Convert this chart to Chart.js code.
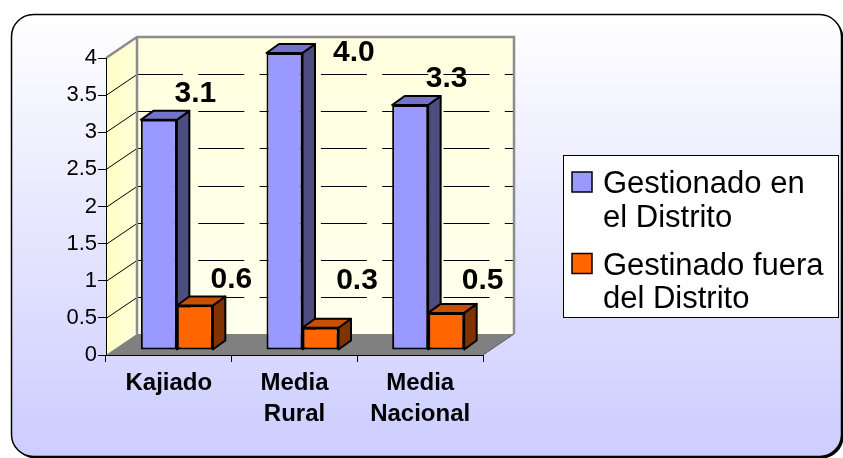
<!DOCTYPE html>
<html>
<head>
<meta charset="utf-8">
<title>Gestión de casos</title>
<script src="https://cdn.jsdelivr.net/npm/chart.js@4.4.0/dist/chart.umd.min.js"></script>
<style>
    body { margin: 0; background: #fff; }
    canvas { display: block; }
</style>
</head>
<body>
<canvas id="chart" width="843" height="458"></canvas>
<script>
    "use strict";

    // Data
    var categories = ['Kajiado', ['Media', 'Rural'], ['Media', 'Nacional']];
    var seriesNames = ['Gestionado en el Distrito', 'Gestinado fuera del Distrito'];
    var enDistrito = [3.1, 4.0, 3.3];
    var fueraDistrito = [0.6, 0.3, 0.5];
    var yTicks = [0, 0.5, 1, 1.5, 2, 2.5, 3, 3.5, 4];

    // Face colours for each series: front, top, side
    var faces = [
        { front: '#9999FF', top: '#7373C8', side: '#4D4D80' },
        { front: '#FF6600', top: '#C85000', side: '#803300' }
    ];

    var FONT = '"Liberation Sans", Arial, sans-serif';
    var WALL = { dx: 31, dy: -21 };     // depth of the plot box
    var SHIFT = { dx: 8, dy: -5 };      // bars stand a little behind the front edge
    var DEPTH = { dx: 12.5, dy: -9 };   // depth of each bar

    Chart.defaults.font.family = FONT;
    Chart.defaults.color = '#000';

    function roundRect(ctx, x, y, w, h, r) {
        ctx.beginPath();
        ctx.moveTo(x + r, y);
        ctx.arcTo(x + w, y, x + w, y + h, r);
        ctx.arcTo(x + w, y + h, x, y + h, r);
        ctx.arcTo(x, y + h, x, y, r);
        ctx.arcTo(x, y, x + w, y, r);
        ctx.closePath();
    }

    function poly(ctx, pts) {
        ctx.beginPath();
        ctx.moveTo(pts[0][0], pts[0][1]);
        for (var i = 1; i < pts.length; i++) ctx.lineTo(pts[i][0], pts[i][1]);
        ctx.closePath();
    }

    // word wrap for the legend
    function wrap(ctx, text, maxWidth) {
        var words = text.split(' '), lines = [], line = '';
        words.forEach(function (w) {
            var test = line ? line + ' ' + w : w;
            if (line && ctx.measureText(test).width > maxWidth) {
                lines.push(line);
                line = w;
            } else {
                line = test;
            }
        });
        if (line) lines.push(line);
        return lines;
    }

    // Background, walls, floor and gridlines
    var box3d = {
        id: 'box3d',
        beforeDraw: function (chart) {
            var ctx = chart.ctx, a = chart.chartArea, y = chart.scales.y;
            ctx.save();

            // panel with shadow
            ctx.fillStyle = '#000';
            roundRect(ctx, 13.5, 16.5, 830, 442, 22);
            ctx.fill();
            var bg = ctx.createLinearGradient(0, 14, 0, 457);
            bg.addColorStop(0, '#FFFFFF');
            bg.addColorStop(1, '#CCCCFF');
            ctx.fillStyle = bg;
            roundRect(ctx, 11.5, 14.5, 830, 442, 22);
            ctx.fill();
            ctx.lineWidth = 1.5;
            ctx.strokeStyle = '#000';
            ctx.stroke();

            var bl = a.left + WALL.dx, bt = a.top + WALL.dy;
            var br = a.right + WALL.dx, bb = a.bottom + WALL.dy;

            // left wall
            var lw = ctx.createLinearGradient(a.left, 0, bl, 0);
            lw.addColorStop(0, '#FFFFC4');
            lw.addColorStop(1, '#FFFFDA');
            ctx.fillStyle = lw;
            poly(ctx, [[a.left, a.top], [bl, bt], [bl, bb], [a.left, a.bottom]]);
            ctx.fill();

            // back wall
            var bw = ctx.createLinearGradient(0, bt, 0, bb);
            bw.addColorStop(0, '#FFFFDE');
            bw.addColorStop(1, '#FFFFEE');
            ctx.fillStyle = bw;
            ctx.fillRect(bl, bt, br - bl, bb - bt);

            // floor
            ctx.fillStyle = '#808080';
            poly(ctx, [[a.left, a.bottom], [a.right, a.bottom], [br, bb], [bl, bb]]);
            ctx.fill();

            // gridlines
            ctx.strokeStyle = '#000';
            ctx.lineWidth = 1;
            yTicks.forEach(function (v) {
                if (v <= y.min || v >= y.max) return;
                var py = Math.round(y.getPixelForValue(v)) + 0.5;
                ctx.setLineDash([]);
                ctx.beginPath();
                ctx.moveTo(a.left, py);
                ctx.lineTo(bl, py + WALL.dy);
                ctx.stroke();
                ctx.setLineDash([46, 15.3]);
                ctx.beginPath();
                ctx.moveTo(bl, py + WALL.dy);
                ctx.lineTo(br, py + WALL.dy);
                ctx.stroke();
            });
            ctx.setLineDash([]);

            // wall edges
            ctx.strokeStyle = '#8C8C8C';
            ctx.lineWidth = 2.5;
            ctx.beginPath();
            ctx.moveTo(a.left, a.top);
            ctx.lineTo(bl, bt);
            ctx.lineTo(br, bt);
            ctx.lineTo(br, bb);
            ctx.moveTo(bl, bt);
            ctx.lineTo(bl, bb);
            ctx.stroke();
            ctx.lineWidth = 1;
            ctx.strokeStyle = '#606060';
            ctx.beginPath();
            ctx.moveTo(a.right, a.bottom);
            ctx.lineTo(br, bb);
            ctx.stroke();

            ctx.restore();
        },
        beforeDatasetsDraw: function (chart) {
            var ctx = chart.ctx;
            ctx.save();
            ctx.translate(SHIFT.dx, SHIFT.dy);
            // tops and sides go underneath the front faces
            chart.data.datasets.forEach(function (ds, i) {
                var f = faces[i];
                chart.getDatasetMeta(i).data.forEach(function (bar) {
                    var l = bar.x - bar.width / 2, r = bar.x + bar.width / 2;
                    ctx.lineWidth = 2;
                    ctx.lineJoin = 'round';
                    ctx.strokeStyle = '#000';
                    poly(ctx, [[r, bar.y], [r + DEPTH.dx, bar.y + DEPTH.dy],
                        [r + DEPTH.dx, bar.base + DEPTH.dy], [r, bar.base]]);
                    ctx.fillStyle = f.side;
                    ctx.fill();
                    ctx.stroke();
                    poly(ctx, [[l, bar.y], [l + DEPTH.dx, bar.y + DEPTH.dy],
                        [r + DEPTH.dx, bar.y + DEPTH.dy], [r, bar.y]]);
                    ctx.fillStyle = f.top;
                    ctx.fill();
                    ctx.stroke();
                });
            });
        },
        afterDatasetsDraw: function (chart) {
            var ctx = chart.ctx, a = chart.chartArea, y = chart.scales.y;
            ctx.restore();

            // value labels
            ctx.save();
            ctx.font = 'bold 30px ' + FONT;
            ctx.fillStyle = '#000';
            ctx.textAlign = 'center';
            ctx.textBaseline = 'middle';
            chart.data.datasets.forEach(function (ds, i) {
                chart.getDatasetMeta(i).data.forEach(function (bar, j) {
                    var text = ds.data[j].toFixed(1);
                    var w = ctx.measureText(text).width;
                    var right = bar.x + bar.width / 2 + SHIFT.dx + DEPTH.dx;
                    var top = bar.y + SHIFT.dy + DEPTH.dy;
                    var cx = right + 6;
                    var cy = Math.min(top - 17, y.getPixelForValue(1));
                    if (cy - 12 < a.top + WALL.dy) {
                        cy = top + 9;
                        cx = right + 18 + w / 2;
                    }
                    ctx.fillText(text, cx, cy);
                });
            });
            ctx.restore();
        },
        afterDraw: function (chart) {
            var ctx = chart.ctx;
            ctx.save();

            // legend
            var lx = 563.5, ly = 155.5, lw = 275, lh = 162;
            ctx.fillStyle = '#fff';
            ctx.fillRect(lx, ly, lw, lh);
            ctx.strokeStyle = '#000';
            ctx.lineWidth = 1;
            ctx.strokeRect(lx, ly, lw, lh);

            ctx.font = '31px ' + FONT;
            ctx.textAlign = 'left';
            ctx.textBaseline = 'alphabetic';
            var base = 193;
            chart.data.datasets.forEach(function (ds, i) {
                ctx.fillStyle = faces[i].front;
                ctx.fillRect(572, base - 21, 20, 20);
                ctx.lineWidth = 1.5;
                ctx.strokeRect(572, base - 21, 20, 20);
                ctx.fillStyle = '#000';
                var lines = wrap(ctx, ds.label, 226);
                lines.forEach(function (line, k) {
                    ctx.fillText(line, 603, base + k * 33.5);
                });
                base += (lines.length - 1) * 33.5 + 48;
            });
            ctx.restore();
        }
    };

    var ctx1 = document.getElementById('chart').getContext('2d');
    var chart1 = new Chart(ctx1, {
        type: 'bar',
        data: {
            labels: categories,
            datasets: [{
                label: seriesNames[0],
                data: enDistrito,
                backgroundColor: faces[0].front
            }, {
                label: seriesNames[1],
                data: fueraDistrito,
                backgroundColor: faces[1].front
            }]
        },
        options: {
            responsive: false,
            animation: false,
            devicePixelRatio: 1,
            clip: false,
            categoryPercentage: 0.573,
            barPercentage: 1,
            borderColor: '#000',
            borderWidth: 2,
            borderSkipped: false,
            layout: {
                padding: { left: 0, top: 58, right: 360, bottom: 0 }
            },
            plugins: {
                legend: { display: false },
                tooltip: { enabled: false }
            },
            scales: {
                x: {
                    afterFit: function (scale) { scale.height = 103; },
                    grid: { drawOnChartArea: false, tickLength: 7, color: '#000' },
                    border: { color: '#000', width: 1 },
                    ticks: {
                        padding: 6,
                        font: { size: 24, weight: 'bold', lineHeight: 1.3 }
                    }
                },
                y: {
                    min: 0,
                    max: 4,
                    afterFit: function (scale) { scale.width = 106; },
                    afterBuildTicks: function (scale) {
                        scale.ticks = yTicks.map(function (v) { return { value: v }; });
                    },
                    grid: { drawOnChartArea: false, tickLength: 8, color: '#000' },
                    border: { color: '#000', width: 1 },
                    ticks: {
                        padding: 1,
                        font: { size: 22 },
                        callback: function (v) { return String(v); }
                    }
                }
            }
        },
        plugins: [box3d]
    });
</script>
</body>
</html>
